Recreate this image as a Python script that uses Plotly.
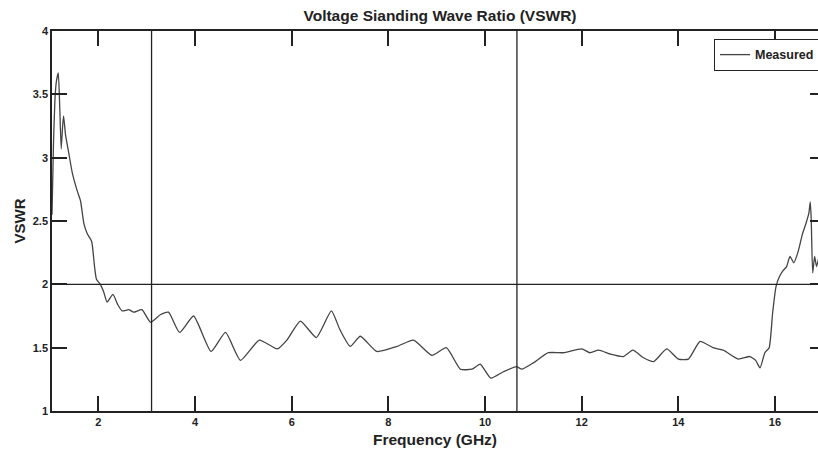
import plotly.graph_objects as go

# Data
freq_ghz = [1.04, 1.07, 1.10, 1.13, 1.17, 1.20, 1.23, 1.26, 1.28, 1.32, 1.39, 1.46, 1.56, 1.63,
            1.70, 1.77, 1.86, 1.92, 1.96, 2.04, 2.11, 2.18, 2.30, 2.40, 2.49, 2.63, 2.73, 2.90,
            3.08, 3.28, 3.45, 3.68, 3.97, 4.33, 4.63, 4.94, 5.33, 5.70, 5.90, 6.18, 6.51, 6.82,
            7.00, 7.21, 7.42, 7.76, 8.18, 8.52, 8.90, 9.20, 9.49, 9.73, 9.90, 10.12, 10.38,
            10.65, 10.76, 11.00, 11.31, 11.62, 12.00, 12.17, 12.35, 12.59, 12.86, 13.06, 13.28,
            13.49, 13.76, 14.00, 14.21, 14.45, 14.72, 14.93, 15.24, 15.48, 15.60, 15.69, 15.79,
            15.88, 15.95, 16.02, 16.09, 16.17, 16.24, 16.31, 16.39, 16.48, 16.57, 16.64, 16.70,
            16.73, 16.75, 16.78, 16.82, 16.86, 16.90]
vswr = [2.55, 3.10, 3.45, 3.60, 3.67, 3.40, 3.07, 3.25, 3.33, 3.18, 3.03, 2.88, 2.74, 2.66,
        2.48, 2.40, 2.34, 2.14, 2.04, 2.00, 1.94, 1.86, 1.92, 1.84, 1.79, 1.80, 1.78, 1.80,
        1.70, 1.76, 1.78, 1.62, 1.75, 1.47, 1.62, 1.40, 1.56, 1.49, 1.56, 1.71, 1.58, 1.79,
        1.64, 1.51, 1.59, 1.47, 1.51, 1.56, 1.44, 1.50, 1.33, 1.33, 1.37, 1.26, 1.31,
        1.35, 1.33, 1.38, 1.46, 1.46, 1.49, 1.46, 1.48, 1.45, 1.43, 1.48, 1.42,
        1.39, 1.49, 1.41, 1.41, 1.55, 1.50, 1.48, 1.41, 1.43, 1.40, 1.34, 1.46,
        1.50, 1.77, 1.98, 2.06, 2.11, 2.14, 2.22, 2.17, 2.26, 2.40, 2.48, 2.56,
        2.65, 2.51, 2.09, 2.22, 2.14, 2.20]

band_edges_ghz = [3.1, 10.66]
vswr_limit = 2.0
x_ticks = [2, 4, 6, 8, 10, 12, 14, 16]
y_ticks = [1, 1.5, 2, 2.5, 3, 3.5, 4]
y_tick_labels = ["1", "1.5", "2", "2.5", "3", "3.5", "4"]

FONT = "Liberation Sans"
INK = "#222222"

fig = go.Figure()
fig.add_trace(go.Scatter(
    x=freq_ghz, y=vswr, mode="lines", name="Measured",
    line=dict(color="#444444", width=1.3, shape="spline", smoothing=0.5),
))
fig.add_trace(go.Scatter(x=[None], y=[None], yaxis="y2", showlegend=False, hoverinfo="skip"))

for xv in band_edges_ghz:
    fig.add_vline(x=xv, line=dict(color=INK, width=1.3))
fig.add_hline(y=vswr_limit, line=dict(color=INK, width=1.3))

fig.update_layout(
    width=818, height=456,
    margin=dict(l=52, r=0, t=31, b=45, autoexpand=False),
    paper_bgcolor="white", plot_bgcolor="white",
    title=dict(text="Voltage Sianding Wave Ratio (VSWR)", x=440 / 818, xref="container",
               xanchor="center", y=1 - 16 / 456, yanchor="middle",
               font=dict(family=FONT, size=15.5, color=INK, weight="bold")),
    xaxis=dict(range=[1.04, 16.89], tickvals=x_ticks, ticks="inside", ticklen=15, tickwidth=1.5,
               tickcolor=INK, showline=True, linecolor=INK, linewidth=1.5, mirror="ticks",
               showgrid=False, zeroline=False,
               tickfont=dict(family=FONT, size=11, color=INK, weight="bold"),
               title=dict(text="Frequency (GHz)", standoff=7,
                          font=dict(family=FONT, size=15.5, color=INK, weight="bold"))),
    yaxis=dict(range=[1, 4], tickvals=y_ticks, ticktext=y_tick_labels, ticks="inside",
               ticklen=15, tickwidth=1.5, tickcolor=INK, showline=True, linecolor=INK,
               linewidth=1.5, mirror=False, showgrid=False, zeroline=False,
               tickfont=dict(family=FONT, size=11, color=INK, weight="bold"),
               title=dict(text="VSWR", standoff=4,
                          font=dict(family=FONT, size=15, color=INK, weight="bold"))),
    yaxis2=dict(range=[1, 4], tickvals=y_ticks, overlaying="y", side="right", anchor="free",
                position=1, ticks="inside", ticklen=8, tickwidth=1.5, tickcolor=INK,
                showticklabels=False, showline=False, showgrid=False, zeroline=False),
    showlegend=True,
    legend=dict(x=(714 - 52) / 766, y=(411.5 - 39) / 380.5, xanchor="left", yanchor="top",
                bgcolor="white", bordercolor=INK, borderwidth=1, tracegroupgap=0,
                itemwidth=30,
                font=dict(family=FONT, size=12.5, color=INK, weight="bold")),
)

fig.write_html("out.html")
